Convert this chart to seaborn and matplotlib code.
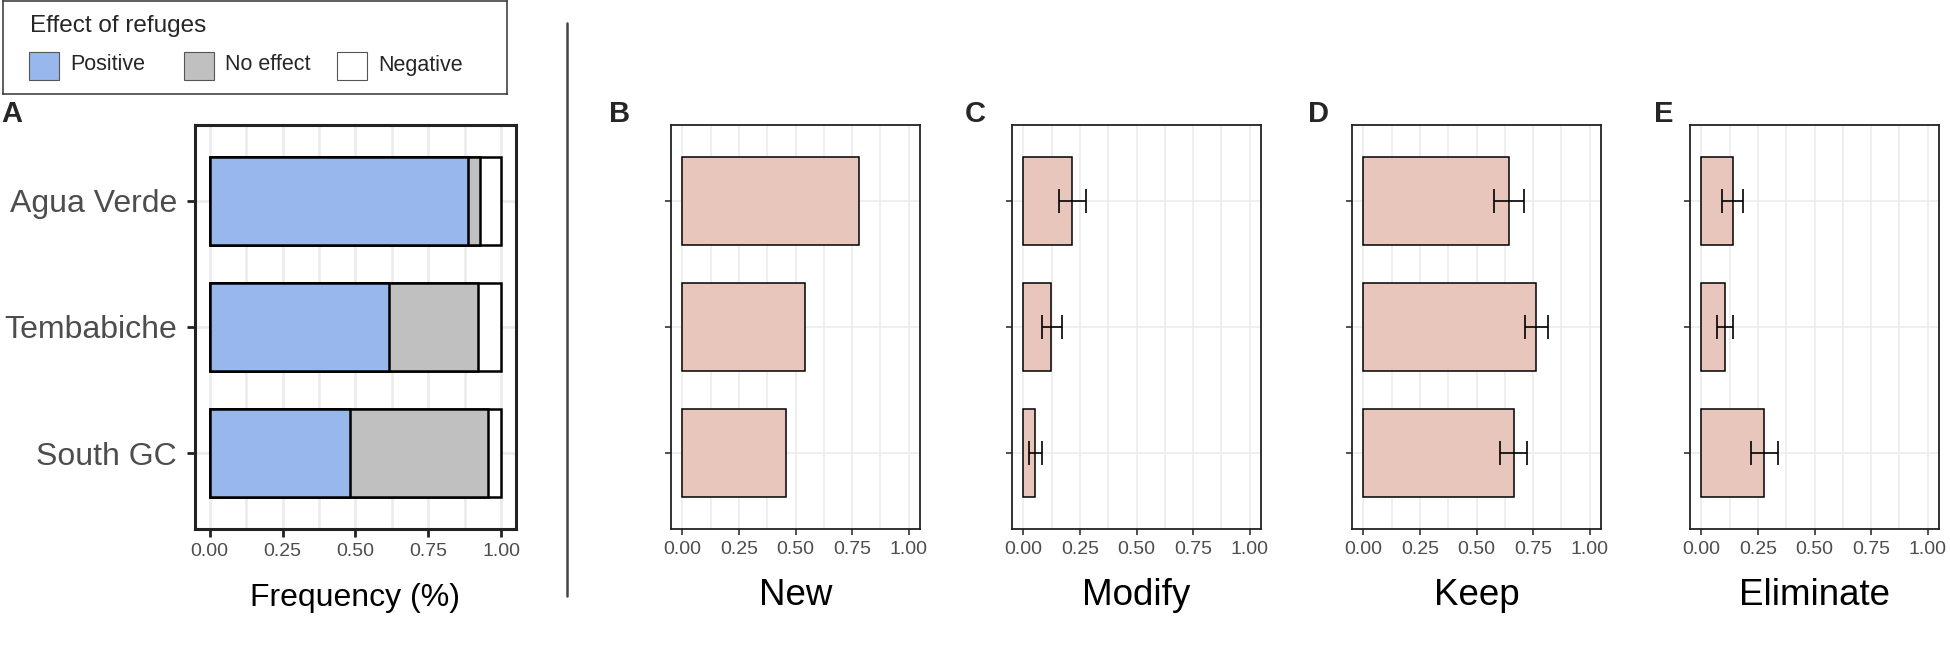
import numpy as np
import matplotlib
matplotlib.use("Agg")
import matplotlib.pyplot as plt
import seaborn as sns
from matplotlib.patches import Rectangle
from matplotlib.lines import Line2D

# data
sites = ["Agua Verde", "Tembabiche", "South GC"]

effect_labels = ["Positive", "No effect", "Negative"]
positive = [0.885, 0.615, 0.48]
no_effect = [0.04, 0.305, 0.475]
negative = [0.075, 0.08, 0.045]

actions = ["New", "Modify", "Keep", "Eliminate"]
new_mean = [0.78, 0.54, 0.46]
modify_mean = [0.216, 0.124, 0.053]
modify_lo = [0.158, 0.084, 0.027]
modify_hi = [0.276, 0.169, 0.081]
keep_mean = [0.642, 0.765, 0.665]
keep_lo = [0.576, 0.715, 0.603]
keep_hi = [0.71, 0.818, 0.723]
elim_mean = [0.138, 0.106, 0.279]
elim_lo = [0.091, 0.068, 0.219]
elim_hi = [0.182, 0.14, 0.339]

x_ticks = [0, 0.25, 0.5, 0.75, 1.0]
x_ticklabels = ["0.00", "0.25", "0.50", "0.75", "1.00"]
x_minor = [0.125, 0.375, 0.625, 0.875]

effect_colors = ["#98B7EC", "#C0C0C0", "#FFFFFF"]
bar_pink = "#E8C6BC"

sns.set_theme(style="white")
plt.rcParams["font.family"] = ["Liberation Sans", "DejaVu Sans"]

W, H = 1950, 646
fig = plt.figure(figsize=(W / 100, H / 100), dpi=100)


def px_axes(left, top, right, bottom):
    return fig.add_axes([left / W, 1 - bottom / H, (right - left) / W, (bottom - top) / H])


def style_panel(ax, frame_lw, grid_lw, tick_len, tick_w):
    ax.set_xlim(-0.05, 1.05)
    ax.set_ylim(2.6, -0.6)
    ax.set_xticks(x_ticks)
    ax.set_xticklabels(x_ticklabels)
    ax.set_xticks(x_minor, minor=True)
    ax.grid(which="major", axis="both", color="#EBEBEB", lw=grid_lw)
    ax.grid(which="minor", axis="x", color="#EBEBEB", lw=grid_lw)
    ax.set_axisbelow(True)
    for sp in ax.spines.values():
        sp.set_linewidth(frame_lw)
        sp.set_color("#222222")
    ax.tick_params(which="minor", length=0)
    ax.tick_params(which="major", length=tick_len, width=tick_w, color="#222222",
                   labelcolor="#4D4D4D", labelsize=14, pad=4,
                   bottom=True, left=True)


# ---- panel A: stacked effect of refuges ----
axA = px_axes(195, 125, 516, 529)
total = np.array(positive) + np.array(no_effect) + np.array(negative)
pos_noeff = np.array(positive) + np.array(no_effect)
for vals, col in [(total, effect_colors[2]), (pos_noeff, effect_colors[1]),
                  (positive, effect_colors[0])]:
    sns.barplot(x=vals, y=sites, color=col, saturation=1, width=0.7,
                edgecolor="black", linewidth=1.8, ax=axA)
style_panel(axA, 2.2, 1.8, 6, 2.0)
axA.tick_params(axis="y", labelsize=23, pad=7)
axA.set_xlabel("Frequency (%)", fontsize=23, color="black", va="center")
axA.xaxis.set_label_coords(0.5, -0.17)
axA.set_ylabel("")

# ---- panels B-E ----
panel_left = [671, 1012, 1352, 1690]
means = [new_mean, modify_mean, keep_mean, elim_mean]
los = [None, modify_lo, keep_lo, elim_lo]
his = [None, modify_hi, keep_hi, elim_hi]
for i, action in enumerate(actions):
    ax = px_axes(panel_left[i], 125, panel_left[i] + 249, 529)
    sns.barplot(x=means[i], y=sites, color=bar_pink, saturation=1, width=0.7,
                edgecolor="black", linewidth=1.1, ax=ax)
    if los[i] is not None:
        m = np.array(means[i])
        ax.errorbar(x=m, y=np.arange(len(sites)),
                    xerr=[m - np.array(los[i]), np.array(his[i]) - m],
                    fmt="none", ecolor="black", elinewidth=1.2, capsize=8.5, capthick=1.2)
    style_panel(ax, 1.3, 1.1, 4.5, 1.1)
    ax.set_yticklabels([])
    ax.set_ylabel("")
    ax.set_xlabel(action, fontsize=26.5, color="black", va="center")
    ax.xaxis.set_label_coords(0.5, -0.165)

# ---- legend box ----
lax = px_axes(3, 1, 507, 94)
lax.set_xlim(0, 504)
lax.set_ylim(93, 0)
lax.set_xticks([])
lax.set_yticks([])
for sp in lax.spines.values():
    sp.set_linewidth(1.1)
    sp.set_color("#333333")
lax.text(27, 25, "Effect of refuges", fontsize=17.5, va="center", ha="left")
key_x = [26, 181, 334]
for kx, lab, col in zip(key_x, effect_labels, effect_colors):
    lax.add_patch(Rectangle((kx, 51), 30, 28, facecolor=col, edgecolor="#555555", lw=0.8))
    lax.text(kx + 41, 64, lab, fontsize=15.5, va="center", ha="left")

# ---- divider and panel letters ----
fig.add_artist(Line2D([567 / W, 567 / W], [1 - 23 / H, 1 - 596 / H],
                      transform=fig.transFigure, color="#444444", lw=1.8))
for letter, lx in zip(["A", "B", "C", "D", "E"], [1, 609, 965, 1308, 1654]):
    fig.text(lx / W, 1 - 122 / H, letter, fontsize=21, fontweight="bold",
             va="baseline", ha="left")

fig.savefig("out.png", dpi=100)
